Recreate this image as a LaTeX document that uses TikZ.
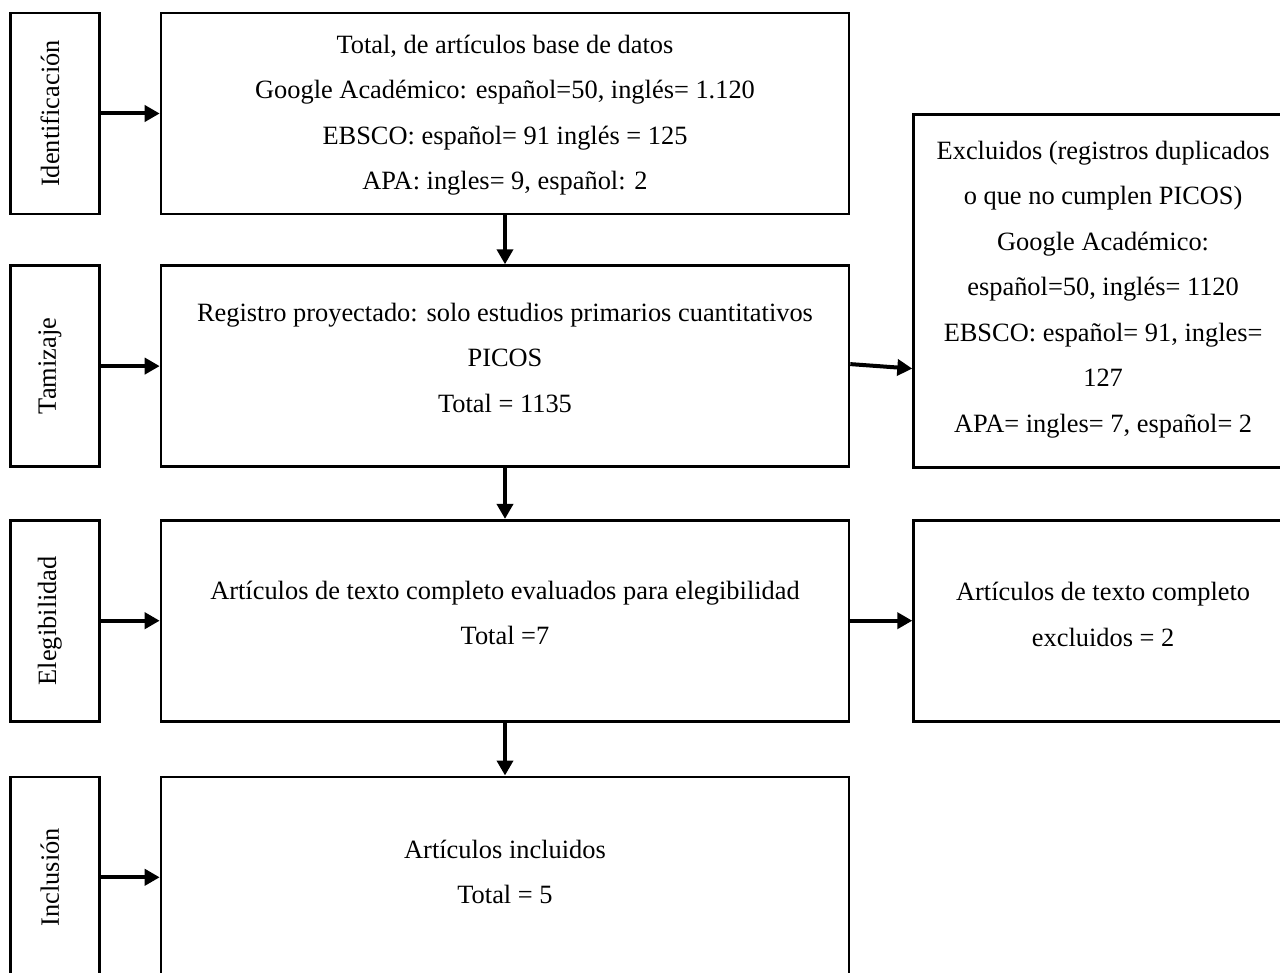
\documentclass[tikz,border=0pt]{standalone}
\usepackage{fontspec}
\setmainfont{Liberation Serif}
\usepackage{graphicx}
\usetikzlibrary{positioning,calc,arrows.meta}

\newcommand{\vlabel}[1]{\rotatebox{90}{#1}\kern5pt}

\begin{document}
\begin{tikzpicture}[auto,
        font=\fontsize{13.2}{22.75}\selectfont,
        block/.style={draw, rectangle, line width=1.3pt, minimum width=344pt, minimum height=100.5pt, align=center},
        stage/.style={block, minimum width=44.5pt},
        side/.style={block, minimum width=189.5pt},
        arr/.style={line width=2pt, -{Triangle[length=7.5pt, width=8pt]}}
    ]
        \useasboundingbox (0,0) rectangle (640pt,-486.5pt);
        \clip (0,0) rectangle (640pt,-486.5pt);

        \node [block, text depth=1pt] (tot) at (252.5pt,-56.75pt) {Total, de artículos base de datos\\Google Académico: español=50, inglés= 1.120\\EBSCO: español= 91 inglés = 125\\APA: ingles= 9, español: 2};
        \node [block, text depth=8.5pt, below=24.5pt of tot] (reg) {Registro proyectado: solo estudios primarios cuantitativos\\PICOS\\Total = 1135};
        \node [block, text depth=8pt, below=25.5pt of reg] (eva) {Artículos de texto completo evaluados para elegibilidad\\Total =7};
        \node [block, text depth=5.5pt, below=26.5pt of eva] (fin) {Artículos incluidos\\Total = 5};

        \node [stage, left=29.5pt of tot] (idf) {\vlabel{Identificación}};
        \node [stage, left=29.5pt of reg] (tam) {\vlabel{Tamizaje}};
        \node [stage, left=29.5pt of eva] (ele) {\vlabel{Elegibilidad}};
        \node [stage, left=29.5pt of fin] (inc) {\vlabel{Inclusión}};

        \node [side, text depth=4.5pt, minimum height=176.5pt, right=31pt of reg, yshift=37.5pt] (excl) {Excluidos (registros duplicados\\o que no cumplen PICOS)\\Google Académico:\\español=50, inglés= 1120\\EBSCO: español= 91, ingles=\\127\\APA= ingles= 7, español= 2};
        \node [side, text depth=6.5pt, right=31pt of eva] (ftx) {Artículos de texto completo\\excluidos = 2};

        \draw [arr] (idf) -- (tot);
        \draw [arr] (tam) -- (reg);
        \draw [arr] (ele) -- (eva);
        \draw [arr] (inc) -- (fin);
        \draw [arr] (tot) -- (reg);
        \draw [arr] (reg) -- (eva);
        \draw [arr] (eva) -- (fin);
        \draw [arr] ([yshift=1pt]reg.east) -- ($(reg.east -| excl.west)+(0,-1.25pt)$);
        \draw [arr] (eva) -- (ftx);
    \end{tikzpicture}
\end{document}
